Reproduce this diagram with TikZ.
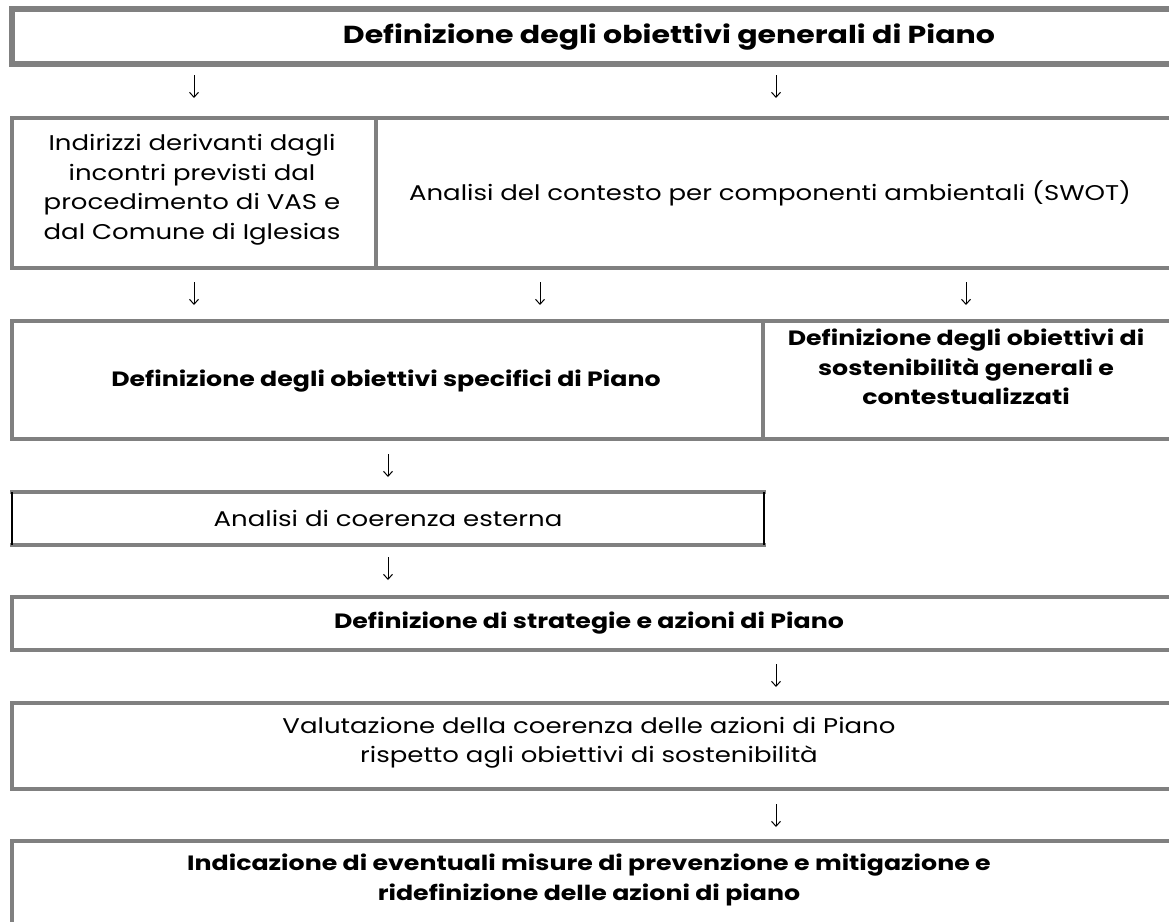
\documentclass[tikz,border=0pt]{standalone}
\usepackage{fontspec}
\setmainfont{Poppins}[FakeStretch=1.22]
\usetikzlibrary{arrows.meta}
\definecolor{boxgray}{HTML}{808080}
\begin{document}
\begin{tikzpicture}[x=1pt,y=-1pt,
  box/.style={draw=boxgray,line width=4pt},
  thickbox/.style={draw=boxgray,line width=6pt},
  blackside/.style={draw=black,line width=2pt},
  txt/.style={font=\fontsize{21.3}{29.5}\selectfont,align=center,inner sep=0pt},
  btxt/.style={font=\fontsize{20.7}{29.5}\selectfont\bfseries,align=center,inner sep=0pt},
  arr/.style={-{Straight Barb[length=5pt,width=9pt]},line width=1pt}]
\useasboundingbox (0,0) rectangle (1169,921);
\clip (0,0) rectangle (1169,921);
% boxes
\draw[thickbox] (12,9) rectangle (1400,64);
\draw[box] (12,118) rectangle (1220,268);
\draw[box] (376,118) -- (376,268);
\draw[box] (12,321) rectangle (1220,439);
\draw[box] (763,321) -- (763,439);
\draw[box] (10,492) -- (766,492);
\draw[box] (10,545) -- (766,545);
\draw[blackside] (12,492) -- (12,545);
\draw[blackside] (764,492) -- (764,545);
\draw[box] (12,597) rectangle (1220,650);
\draw[box] (12,703) rectangle (1220,789);
\draw[box] (12,841) rectangle (1220,980);
% texts
\node[btxt,font=\fontsize{24.6}{29.5}\selectfont\bfseries] (t1) at (669,37) {Definizione degli obiettivi generali di Piano};
\node[txt] (t2a) at (192,190) {Indirizzi derivanti dagli\\incontri previsti dal\\procedimento di VAS e\\dal Comune di Iglesias};
\node[txt] (t2b) at (770,193) {Analisi del contesto per componenti ambientali (SWOT)};
\node[btxt] (t3a) at (386,381) {Definizione degli obiettivi specifici di Piano};
\node[btxt] (t3b) at (966,367) {Definizione degli obiettivi di\\sostenibilità generali e\\contestualizzati};
\node[txt] (t4) at (388,518) {Analisi di coerenza esterna};
\node[btxt] (t5) at (589,623) {Definizione di strategie e azioni di Piano};
\node[txt] (t6) at (589,743) {Valutazione della coerenza delle azioni di Piano\\rispetto agli obiettivi di sostenibilità};
\node[btxt] (t7) at (589,880) {Indicazione di eventuali misure di prevenzione e mitigazione e\\ridefinizione delle azioni di piano};
% arrows
\coordinate (a1s) at (194,75);  \coordinate (a1e) at (194,98);
\coordinate (a2s) at (776,75);  \coordinate (a2e) at (776,98);
\coordinate (a3s) at (194,282); \coordinate (a3e) at (194,305);
\coordinate (a4s) at (540,282); \coordinate (a4e) at (540,305);
\coordinate (a5s) at (966,282); \coordinate (a5e) at (966,305);
\coordinate (a6s) at (388,454); \coordinate (a6e) at (388,477);
\coordinate (a7s) at (388,557); \coordinate (a7e) at (388,580);
\coordinate (a8s) at (776,664); \coordinate (a8e) at (776,687);
\coordinate (a9s) at (776,804); \coordinate (a9e) at (776,827);
\foreach \i in {1,...,9} \draw[arr] (a\i s) -- (a\i e);
\end{tikzpicture}
\end{document}
